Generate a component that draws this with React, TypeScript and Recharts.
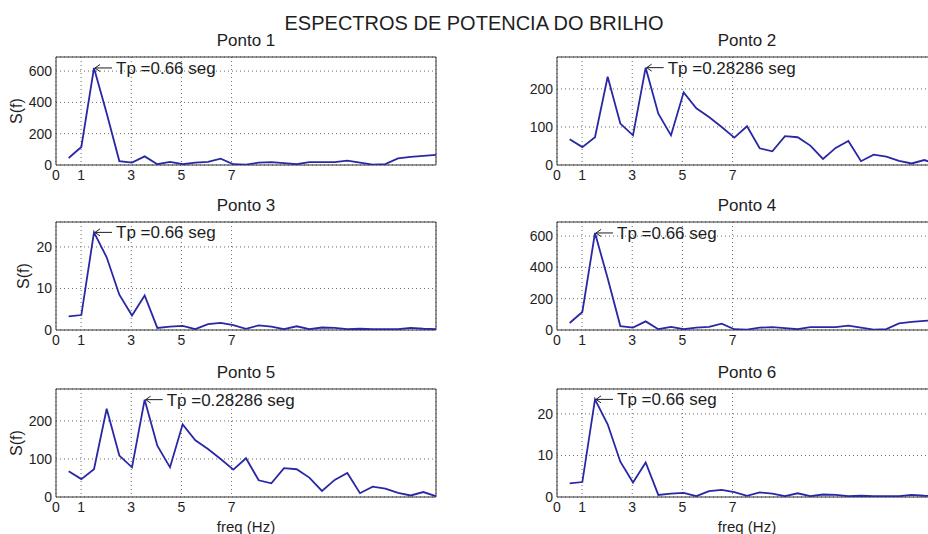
import { LineChart, Line, XAxis, YAxis, CartesianGrid, ReferenceArea, ReferenceDot } from "recharts";

// frequency bins (Hz), 0.50505 Hz apart
const FREQ = [
  0.5051, 1.0101, 1.5152, 2.0202, 2.5253, 3.0303, 3.5354, 4.0404, 4.5455, 5.0505,
  5.5556, 6.0606, 6.5657, 7.0707, 7.5758, 8.0808, 8.5859, 9.0909, 9.596, 10.101,
  10.6061, 11.1111, 11.6162, 12.1212, 12.6263, 13.1313, 13.6364, 14.1414, 14.6465, 15.1515,
];

// power spectra S(f)
const SPEC_A = [
  45, 115, 620, 330, 25, 15, 55, 5, 20, 5,
  15, 20, 40, 5, 3, 15, 18, 12, 5, 18,
  18, 18, 28, 15, 3, 6, 42, 52, 58, 65,
];
const SPEC_B = [
  68, 47, 73, 232, 109, 78, 256, 135, 78, 191,
  149, 126, 100, 72, 102, 44, 36, 76, 73, 51,
  16, 45, 63, 10, 27, 22, 11, 4, 13, 2,
];
const SPEC_C = [
  3.3, 3.6, 23.5, 17.5, 8.5, 3.5, 8.3, 0.5, 0.8, 1.0,
  0.2, 1.4, 1.7, 1.2, 0.3, 1.1, 0.8, 0.2, 0.9, 0.2,
  0.6, 0.5, 0.2, 0.3, 0.2, 0.2, 0.2, 0.5, 0.3, 0.2,
];

const X_TICKS = [0, 1, 3, 5, 7];
const TICKS_A = [0, 200, 400, 600];
const TICKS_B = [0, 100, 200];
const TICKS_C = [0, 10, 20];

const TITLES = ["Ponto 1", "Ponto 2", "Ponto 3", "Ponto 4", "Ponto 5", "Ponto 6"];
const PEAK_TEXT_A = "Tp =0.66 seg";
const PEAK_TEXT_B = "Tp =0.28286 seg";

const FONT = '"Liberation Sans", Arial, Helvetica, sans-serif';
const INK = "#1e1e1e";
const LINE = "#2828a6";
const F_MAX = 15.1515;

const PLOT_W = 380;
const PLOT_H = 108;
const AXIS_W = 56;
const XAXIS_H = 24;
const PAD_T = 6;
const PAD_R = 8;
const PAD_B = 4;
const COL_LEFT = [56, 557];
const ROW_TOP = [57, 222, 389];

const panels = [
  { values: SPEC_A, yMax: 690, ticks: TICKS_A, peak: PEAK_TEXT_A },
  { values: SPEC_B, yMax: 284, ticks: TICKS_B, peak: PEAK_TEXT_B },
  { values: SPEC_C, yMax: 26, ticks: TICKS_C, peak: PEAK_TEXT_A },
  { values: SPEC_A, yMax: 690, ticks: TICKS_A, peak: PEAK_TEXT_A },
  { values: SPEC_B, yMax: 284, ticks: TICKS_B, peak: PEAK_TEXT_B },
  { values: SPEC_C, yMax: 26, ticks: TICKS_C, peak: PEAK_TEXT_A },
];

const tickStyle = { fontSize: 14, fill: INK, fontFamily: FONT };

// left arrow pointing at the peak, followed by the period text
const PeakLabel = ({ viewBox, text }: any) => {
  const x = viewBox.x + viewBox.width / 2;
  const y = viewBox.y + viewBox.height / 2;
  return (
    <g>
      <path d={`M${x + 1},${y} h17`} stroke={INK} strokeWidth={1} />
      <path d={`M${x + 6},${y - 3.5} L${x + 1},${y} L${x + 6},${y + 3.5}`} stroke={INK} strokeWidth={1} fill="none" />
      <text x={x + 22} y={y} dy="0.35em" fontSize={17} fontFamily={FONT} fill={INK}>
        {text}
      </text>
    </g>
  );
};

const Spectrum = ({ values, yMax, ticks, peak, left, top }: any) => {
  const data = FREQ.map((f, i) => ({ f, s: values[i] }));
  const top1 = data.reduce((a, b) => (b.s > a.s ? b : a));
  return (
    <div style={{ position: "absolute", left: left - AXIS_W, top: top - PAD_T }}>
      <LineChart
        width={AXIS_W + PLOT_W + PAD_R}
        height={PAD_T + PLOT_H + XAXIS_H + PAD_B}
        data={data}
        margin={{ top: PAD_T, right: PAD_R, bottom: PAD_B, left: 0 }}
      >
        <CartesianGrid strokeDasharray="1 3" stroke="#6a6a6a" />
        <XAxis
          type="number"
          dataKey="f"
          domain={[0, F_MAX]}
          ticks={X_TICKS}
          interval={0}
          allowDataOverflow
          axisLine={false}
          tickLine={false}
          tickSize={5}
          tickMargin={0}
          height={XAXIS_H}
          tick={tickStyle}
        />
        <YAxis
          type="number"
          domain={[0, yMax]}
          ticks={ticks}
          interval={0}
          allowDataOverflow
          width={AXIS_W}
          axisLine={false}
          tickLine={false}
          tickSize={3}
          tickMargin={1}
          tick={tickStyle}
        />
        <ReferenceArea x1={0} x2={F_MAX} y1={0} y2={yMax} fill="none" stroke="#333" strokeWidth={1} />
        <Line type="linear" dataKey="s" stroke={LINE} strokeWidth={1.8} dot={false} isAnimationActive={false} />
        <ReferenceDot
          x={top1.f}
          y={top1.s}
          r={1}
          fill="none"
          stroke="none"
          label={{ content: (p: any) => <PeakLabel {...p} text={peak} /> }}
        />
      </LineChart>
    </div>
  );
};

export default function App() {
  return (
    <div
      style={{
        position: "absolute",
        left: 0,
        top: 0,
        width: 928,
        height: 534,
        overflow: "hidden",
        background: "#fff",
        fontFamily: FONT,
      }}
    >
      {panels.map((p, i) => (
        <Spectrum key={i} {...p} left={COL_LEFT[i % 2]} top={ROW_TOP[Math.floor(i / 2)]} />
      ))}
      <svg width={928} height={534} style={{ position: "absolute", left: 0, top: 0, pointerEvents: "none" }}>
        <text x={474} y={30} textAnchor="middle" fontSize={20} fontFamily={FONT} fill={INK}>
          ESPECTROS DE POTENCIA DO BRILHO
        </text>
        {TITLES.map((t, i) => (
          <text
            key={t}
            x={COL_LEFT[i % 2] + PLOT_W / 2}
            y={ROW_TOP[Math.floor(i / 2)] - 11}
            textAnchor="middle"
            fontSize={17}
            fontFamily={FONT}
            fill={INK}
          >
            {t}
          </text>
        ))}
        {ROW_TOP.map((top, r) => {
          const cx = r === 1 ? 23 : 16;
          const cy = top + PLOT_H / 2;
          return (
            <text
              key={r}
              x={cx}
              y={cy}
              transform={`rotate(-90 ${cx} ${cy})`}
              textAnchor="middle"
              dominantBaseline="central"
              fontSize={16}
              fontFamily={FONT}
              fill={INK}
            >
              S(f)
            </text>
          );
        })}
        {COL_LEFT.map((l, c) => (
          <text key={c} x={l + PLOT_W / 2} y={532} textAnchor="middle" fontSize={15} fontFamily={FONT} fill={INK}>
            freq (Hz)
          </text>
        ))}
      </svg>
    </div>
  );
}
